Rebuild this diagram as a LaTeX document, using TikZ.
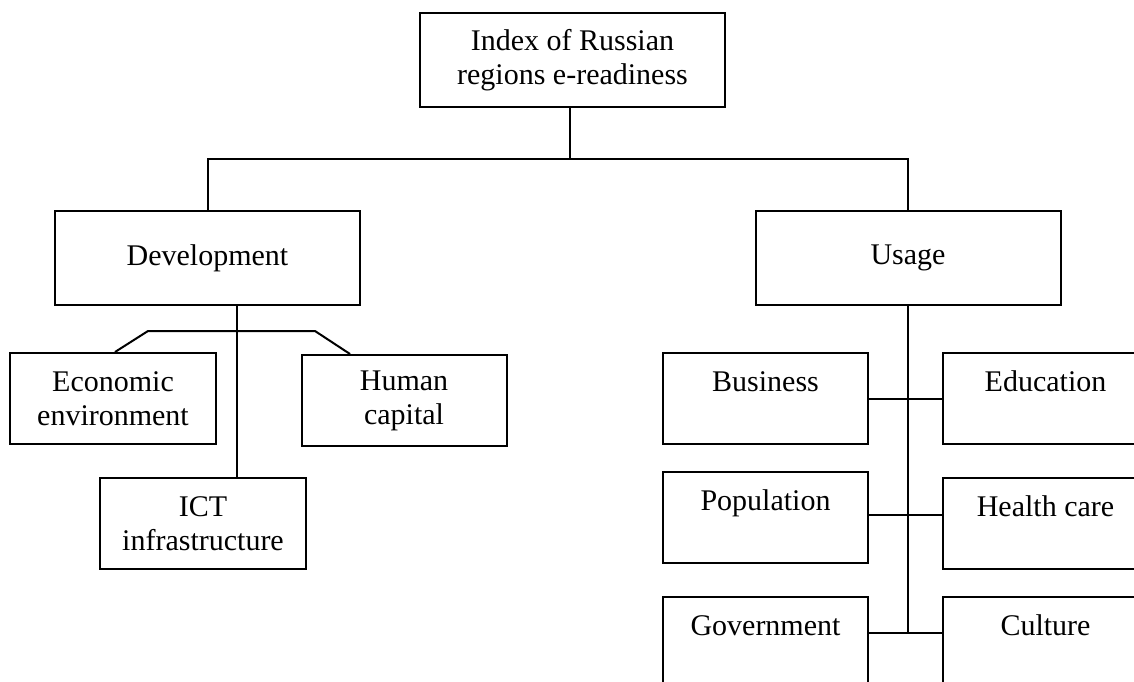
\documentclass[tikz,border=0pt]{standalone}
\usepackage{fontspec}
\setmainfont{Liberation Serif}
\usepackage{tikz}
\usetikzlibrary{positioning}
\tikzset{every node/.style={font=\fontsize{12}{13.5}\selectfont}}
\newcommand{\topline}[1]{#1\\[-3.6pt]\strut}

\begin{document}
\begin{tikzpicture}[x=0.4pt, y=-0.4pt, line width=0.8pt]
    % Define styles
    \tikzstyle{bigbox} = [rectangle, draw=black, line width=0.8pt, minimum width=122pt, minimum height=37.6pt, align=center, inner sep=0pt]
    \tikzstyle{smallbox} = [rectangle, draw=black, line width=0.8pt, minimum width=82pt, minimum height=36.4pt, align=center, inner sep=0pt]
    \tikzstyle{link} = [line width=0.8pt]

    % Canvas
    \useasboundingbox (0,0) rectangle (1134,681);
    \clip (0,0) rectangle (1134,681);

    % Level 1: Index
    \node (index) [bigbox] at (572.5, 60) {Index of Russian\\regions e-readiness};

    % Level 2: Development and Usage
    \node (dev) [bigbox] at (207.5, 258) {Development};
    \node (usage) [bigbox] at (908, 258) {Usage};

    % Level 3: Development parts
    \node (econ) [smallbox] at (113, 398.5) {Economic\\environment};
    \node (human) [smallbox] at (404, 400.5) {Human\\capital};
    \node (ict) [smallbox] at (203, 523.5) {ICT\\infrastructure};

    % Level 3: Usage parts
    \node (business) [smallbox] at (765.5, 398.5) {\topline{Business}};
    \node (education) [smallbox] at (1045.5, 398.5) {\topline{Education}};
    \node (population) [smallbox] at (765.5, 517.5) {\topline{Population}};
    \node (health) [smallbox] at (1045.5, 523.5) {\topline{Health care}};
    \node (government) [smallbox] at (765.5, 642.5) {\topline{Government}};
    \node (culture) [smallbox] at (1045.5, 642.5) {\topline{Culture}};

    % Junction points
    \coordinate (hub) at (570, 159);
    \coordinate (devjoint) at (237, 331);
    \coordinate (brl) at (148, 331);
    \coordinate (brr) at (315, 331);
    \coordinate (ujoint1) at (908, 399);
    \coordinate (ujoint2) at (908, 515);
    \coordinate (ujoint3) at (908, 633);

    % Top split
    \draw [link] (index.south -| hub) -- (hub);
    \draw [link] (dev.north) |- (hub) -| (usage.north);

    % Development branches
    \draw [link] (dev.south -| devjoint) -- (ict.north -| devjoint);
    \draw [link] ([xshift=0.8pt]econ.north) -- (brl) -- (brr) -- ([xshift=-21.6pt]human.north);

    % Usage branches
    \draw [link] (usage.south) -- (ujoint3);
    \draw [link] (business.east |- ujoint1) -- (education.west |- ujoint1);
    \draw [link] (population.east |- ujoint2) -- (health.west |- ujoint2);
    \draw [link] (government.east |- ujoint3) -- (culture.west |- ujoint3);
\end{tikzpicture}
\end{document}
